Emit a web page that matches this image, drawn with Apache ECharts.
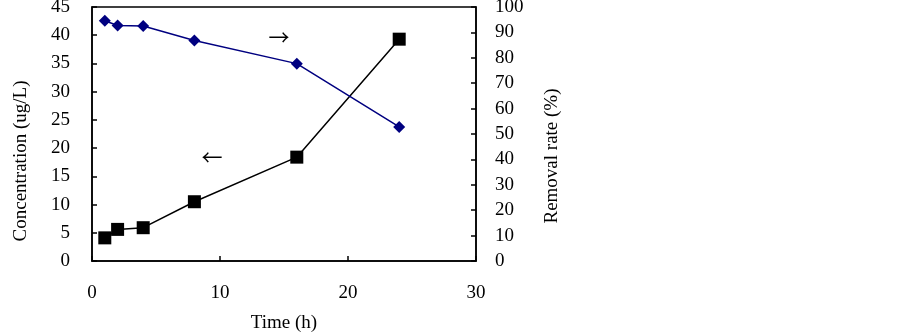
<!DOCTYPE html>
<html>
<head>
<meta charset="utf-8">
<script src="https://cdn.jsdelivr.net/npm/echarts@6/dist/echarts.min.js"></script>
<style>
  html, body { margin: 0; padding: 0; background: #fff; }
  #chart { width: 902px; height: 333px; }
</style>
</head>
<body>
<div id="chart"></div>
<script>
var timeH = [1, 2, 4, 8, 16, 24];
var concentration = [4.1, 5.6, 5.9, 10.5, 18.4, 39.3];
var removalRate = [94.6, 92.7, 92.5, 86.8, 77.7, 52.8];
var xTicks = [0, 10, 20, 30];
var leftTicks = [0, 45, 5];
var rightTicks = [0, 100, 10];

var serif = 'Liberation Serif';

function pairs(xs, ys) {
    var out = [];
    for (var i = 0; i < xs.length; i++) {
        out.push([xs[i], ys[i]]);
    }
    return out;
}

var chart = echarts.init(document.getElementById('chart'));

var option = {
    animation: false,
    backgroundColor: '#fff',
    grid: {
        left: 92,
        right: 426,
        top: 7,
        bottom: 72,
        outerBoundsMode: 'none',
        containLabel: false,
        show: true,
        borderColor: '#000',
        borderWidth: 1.5
    },
    xAxis: {
        type: 'value',
        min: xTicks[0],
        max: xTicks[xTicks.length - 1],
        interval: 10,
        name: 'Time (h)',
        nameLocation: 'middle',
        nameGap: 53,
        nameTextStyle: { fontFamily: serif, fontSize: 19, color: '#000' },
        axisLine: { lineStyle: { color: '#000', width: 1.5 } },
        axisTick: { inside: true, length: 5, lineStyle: { color: '#000', width: 1.5 } },
        axisLabel: { margin: 23, fontFamily: serif, fontSize: 19, color: '#000' },
        splitLine: { show: false }
    },
    yAxis: [
        {
            type: 'value',
            min: leftTicks[0],
            max: leftTicks[1],
            interval: leftTicks[2],
            name: 'Concentration (ug/L)',
            nameLocation: 'middle',
            nameGap: 61,
            // the original label sits lower than the axis middle
            nameTextStyle: { fontFamily: serif, fontSize: 19, color: '#000', padding: [0, 54, 0, 0] },
            axisLine: { show: true, lineStyle: { color: '#000', width: 1.5 } },
            axisTick: { inside: true, length: 5, lineStyle: { color: '#000', width: 1.5 } },
            axisLabel: { margin: 22, fontFamily: serif, fontSize: 19, color: '#000' },
            splitLine: { show: false }
        },
        {
            type: 'value',
            position: 'right',
            min: rightTicks[0],
            max: rightTicks[1],
            interval: rightTicks[2],
            name: 'Removal rate (%)',
            nameLocation: 'middle',
            nameGap: 67,
            nameRotate: 90,
            nameTextStyle: { fontFamily: serif, fontSize: 19, color: '#000', padding: [0, 44, 0, 0] },
            axisLine: { show: true, lineStyle: { color: '#000', width: 1.5 } },
            axisTick: { inside: true, length: 5, lineStyle: { color: '#000', width: 1.5 } },
            axisLabel: { margin: 19, fontFamily: serif, fontSize: 19, color: '#000' },
            splitLine: { show: false }
        }
    ],
    series: [
        {
            name: 'Concentration',
            type: 'line',
            yAxisIndex: 0,
            data: pairs(timeH, concentration),
            symbol: 'rect',
            symbolSize: 13,
            itemStyle: { color: '#000' },
            lineStyle: { color: '#000', width: 1.5 }
        },
        {
            name: 'Removal rate',
            type: 'line',
            yAxisIndex: 1,
            data: pairs(timeH, removalRate),
            symbol: 'diamond',
            symbolSize: [12, 12],
            itemStyle: { color: '#000080' },
            lineStyle: { color: '#000080', width: 1.5 }
        }
    ],
    graphic: [
        {
            type: 'text',
            x: 279,
            y: 37,
            style: { text: '→', font: '21px "Noto Sans CJK SC"', fill: '#000', align: 'center', verticalAlign: 'middle' }
        },
        {
            type: 'text',
            x: 212,
            y: 157,
            style: { text: '←', font: '21px "Noto Sans CJK SC"', fill: '#000', align: 'center', verticalAlign: 'middle' }
        }
    ]
};

chart.setOption(option);
</script>
</body>
</html>
